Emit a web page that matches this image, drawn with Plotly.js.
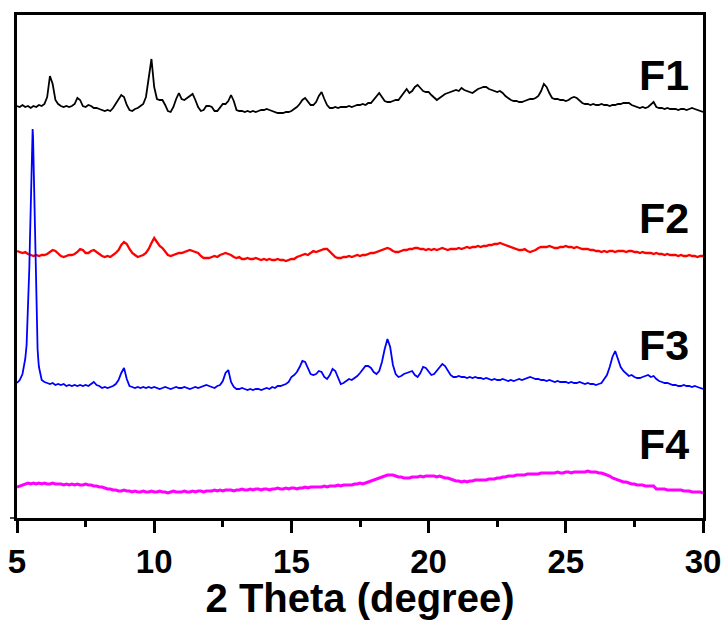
<!DOCTYPE html>
<html>
<head>
<meta charset="utf-8">
<script src="https://cdn.plot.ly/plotly-3.0.1.min.js"></script>
<style>
  html, body { margin: 0; padding: 0; background: #ffffff; }
  #chart { width: 726px; height: 620px; }
</style>
</head>
<body>
<div id="chart"></div>
<script>
// Powder XRD patterns of formulations F1–F4, stacked with vertical offsets.
// Intensities are in arbitrary units (offset already included), sampled every 0.1° 2θ.

const sampleNames = ["F1", "F2", "F3", "F4"];
const lineColors = ["#000000", "#ff0000", "#0000ff", "#ff00ff"];
const tickValues = [5, 10, 15, 20, 25, 30];
const tickLabels = ["5", "10", "15", "20", "25", "30"];

// 2θ sampling grid, 5.0° to 30.0°
const twoTheta = [];
for (let i = 0; i <= 250; i++) twoTheta.push((50 + i) / 10);

const countsF1 = [
  411, 410, 412, 410, 411, 409, 411, 410, 412, 411,
  413, 420, 441, 433, 417, 413, 411, 410, 411, 410,
  411, 413, 419, 417, 411, 410, 412, 411, 409, 409,
  408, 407, 406, 407, 406, 409, 413, 418, 422, 420,
  412, 407, 406, 408, 409, 411, 413, 420, 440, 458,
  430, 418, 417, 417, 412, 406, 405, 410, 418, 424,
  418, 417, 419, 421, 423, 417, 410, 406, 407, 411,
  411, 410, 406, 406, 410, 413, 413, 416, 422, 416,
  407, 406, 406, 405, 406, 405, 406, 405, 406, 407,
  407, 408, 407, 406, 405, 404, 404, 404, 405, 405,
  406, 408, 410, 413, 417, 419, 416, 412, 412, 415,
  421, 425, 418, 412, 409, 409, 410, 409, 410, 410,
  410, 411, 410, 411, 412, 412, 413, 412, 414, 414,
  417, 420, 424, 420, 416, 415, 415, 416, 417, 417,
  421, 425, 428, 424, 426, 430, 432, 429, 426, 425,
  425, 422, 419, 417, 419, 421, 423, 424, 425, 426,
  427, 426, 429, 427, 426, 425, 424, 426, 428, 429,
  430, 430, 428, 427, 426, 425, 426, 424, 421, 419,
  417, 416, 416, 415, 415, 416, 417, 418, 418, 419,
  421, 426, 433, 430, 424, 419, 418, 418, 417, 417,
  416, 417, 419, 420, 419, 416, 414, 413, 413, 412,
  413, 412, 412, 413, 412, 412, 411, 412, 412, 413,
  413, 414, 414, 414, 412, 411, 410, 409, 410, 409,
  410, 413, 415, 410, 409, 409, 408, 409, 408, 408,
  408, 407, 408, 408, 407, 408, 409, 408, 407, 406,
  405
];

const countsF2 = [
  266, 265, 264, 265, 263, 262, 261, 262, 261, 262,
  262, 263, 265, 267, 266, 263, 261, 260, 261, 262,
  262, 263, 265, 268, 267, 264, 264, 266, 267, 265,
  263, 261, 260, 261, 260, 262, 264, 267, 272, 275,
  273, 268, 264, 262, 260, 261, 262, 264, 268, 274,
  279, 275, 271, 269, 265, 262, 261, 262, 263, 264,
  264, 265, 266, 267, 266, 265, 264, 261, 259, 259,
  259, 260, 261, 260, 262, 263, 264, 263, 262, 260,
  259, 260, 258, 258, 259, 258, 258, 259, 258, 257,
  258, 257, 258, 257, 257, 258, 257, 257, 256, 257,
  258, 258, 260, 261, 262, 263, 262, 264, 266, 265,
  266, 267, 268, 268, 265, 262, 260, 259, 259, 260,
  260, 261, 260, 261, 262, 261, 262, 262, 263, 264,
  264, 265, 266, 267, 268, 269, 268, 266, 265, 265,
  266, 267, 267, 268, 268, 269, 269, 268, 268, 267,
  268, 267, 268, 267, 268, 269, 268, 267, 268, 268,
  268, 269, 268, 269, 270, 269, 270, 270, 271, 270,
  271, 271, 272, 272, 273, 273, 274, 273, 272, 271,
  270, 269, 268, 267, 267, 268, 266, 265, 266, 267,
  269, 270, 270, 270, 271, 270, 269, 269, 270, 270,
  271, 270, 270, 269, 270, 269, 268, 268, 268, 267,
  267, 266, 266, 265, 266, 265, 266, 266, 265, 266,
  266, 266, 265, 266, 266, 265, 265, 264, 265, 264,
  264, 264, 263, 264, 263, 263, 262, 263, 262, 262,
  262, 261, 262, 261, 261, 262, 261, 261, 260, 261,
  261
];

const countsF3 = [
  134, 137, 143, 158, 205, 318, 362, 215, 150, 137,
  135, 134, 133, 134, 132, 133, 132, 133, 131, 132,
  131, 132, 131, 132, 131, 132, 131, 133, 135, 132,
  131, 129, 130, 129, 130, 131, 133, 137, 144, 149,
  138, 131, 130, 129, 130, 129, 130, 129, 130, 129,
  130, 129, 128, 129, 130, 129, 128, 129, 130, 129,
  129, 130, 129, 128, 129, 130, 129, 130, 131, 132,
  131, 130, 129, 131, 132, 136, 144, 147, 135, 130,
  128, 128, 129, 128, 127, 128, 127, 128, 128, 127,
  128, 129, 128, 130, 129, 131, 131, 132, 133, 135,
  140, 142, 145, 150, 156, 155, 148, 143, 142, 143,
  146, 145, 140, 138, 142, 148, 146, 139, 133, 134,
  136, 138, 137, 139, 141, 144, 148, 151, 151, 149,
  145, 143, 146, 155, 168, 178, 170, 152, 143, 140,
  141, 143, 144, 145, 146, 142, 140, 144, 150, 149,
  145, 142, 143, 146, 150, 153, 151, 146, 142, 140,
  140, 141, 140, 140, 139, 140, 139, 140, 139, 139,
  138, 139, 138, 137, 138, 137, 137, 138, 137, 136,
  137, 136, 137, 138, 137, 138, 139, 140, 139, 138,
  138, 137, 137, 136, 137, 136, 135, 136, 135, 135,
  135, 134, 135, 134, 134, 135, 134, 133, 134, 133,
  133, 132, 133, 134, 138, 142, 150, 160, 166, 157,
  150, 146, 143, 141, 142, 140, 139, 139, 140, 141,
  142, 140, 141, 138, 136, 135, 134, 134, 133, 132,
  132, 131, 131, 132, 131, 131, 130, 131, 130, 129,
  128
];

// finer sampling across the sharp F3 reflection near 5.6°
const f3PeakTheta = [5.35, 5.45, 5.47, 5.53, 5.55, 5.57, 5.585, 5.62, 5.645, 5.67, 5.75, 5.78];
const f3PeakCounts = [172, 250, 275, 357, 378, 388, 380, 340, 298, 257, 168, 156];

const countsF4 = [
  30, 31, 32, 33, 34, 33, 34, 33, 34, 33,
  34, 33, 33, 34, 33, 33, 33, 32, 33, 32,
  33, 32, 33, 32, 32, 33, 32, 32, 31, 31,
  30, 30, 29, 28, 28, 27, 27, 26, 26, 27,
  26, 26, 25, 26, 25, 25, 26, 25, 25, 26,
  25, 25, 26, 25, 25, 24, 25, 26, 25, 25,
  25, 26, 25, 25, 26, 25, 26, 26, 25, 26,
  26, 26, 27, 26, 27, 26, 27, 27, 27, 26,
  27, 27, 28, 27, 27, 28, 27, 28, 28, 27,
  28, 28, 27, 28, 28, 29, 28, 28, 29, 28,
  29, 29, 28, 29, 29, 30, 29, 30, 30, 30,
  30, 30, 31, 30, 31, 31, 31, 32, 31, 32,
  32, 32, 32, 33, 33, 34, 33, 34, 35, 36,
  37, 38, 39, 40, 41, 42, 42, 42, 41, 40,
  40, 39, 39, 39, 40, 40, 40, 41, 40, 41,
  41, 41, 41, 40, 41, 40, 39, 39, 38, 37,
  36, 36, 35, 36, 35, 36, 36, 37, 37, 37,
  37, 37, 38, 38, 38, 39, 39, 40, 40, 41,
  41, 41, 42, 42, 42, 42, 43, 43, 43, 43,
  43, 44, 44, 44, 44, 44, 44, 45, 44, 44,
  45, 45, 44, 45, 45, 45, 45, 45, 46, 45,
  45, 45, 44, 44, 43, 42, 41, 39, 38, 37,
  36, 35, 35, 34, 33, 33, 32, 32, 32, 31,
  31, 31, 31, 28, 28, 28, 28, 27, 27, 27,
  27, 27, 27, 26, 26, 26, 25, 25, 25, 25,
  24
];

// merge the fine F3 points into the regular grid
function mergeSorted(xa, ya, xb, yb) {
  const pts = xa.map((x, i) => [x, ya[i]]).concat(xb.map((x, i) => [x, yb[i]]));
  pts.sort((p, q) => p[0] - q[0]);
  return { x: pts.map(p => p[0]), y: pts.map(p => p[1]) };
}
const f3 = mergeSorted(twoTheta, countsF3, f3PeakTheta, f3PeakCounts);

const seriesX = [twoTheta, twoTheta, f3.x, twoTheta];
const seriesY = [countsF1, countsF2, f3.y, countsF4];
const widths = [1.8, 2.3, 1.8, 3.0];

const traces = sampleNames.map((name, k) => ({
  type: "scatter",
  mode: "lines",
  name: name,
  x: seriesX[k],
  y: seriesY[k],
  line: { color: lineColors[k], width: widths[k] },
  hoverinfo: "skip"
}));

// sample labels placed at the right end of each pattern
const labelY = [442, 299, 172, 73];
const annotations = sampleNames.map((name, k) => ({
  text: name,
  x: 29.56, xref: "x", xanchor: "right",
  y: labelY[k], yref: "y", yanchor: "middle",
  showarrow: false,
  font: { family: "Liberation Sans, Arial, sans-serif", size: 43, color: "#000000", weight: "bold" }
}));

const layout = {
  width: 726,
  height: 620,
  margin: { l: 17, r: 23, t: 15, b: 102 },
  paper_bgcolor: "#ffffff",
  plot_bgcolor: "#ffffff",
  showlegend: false,
  font: { family: "Liberation Sans, Arial, sans-serif", color: "#000000" },
  xaxis: {
    range: [5, 30],
    tickmode: "array",
    tickvals: tickValues,
    ticktext: tickLabels,
    ticks: "outside",
    ticklen: 12,
    tickwidth: 3,
    tickcolor: "#000000",
    minor: { dtick: 2.5, ticks: "outside", ticklen: 6, tickwidth: 3, tickcolor: "#000000" },
    showline: true,
    linewidth: 3,
    linecolor: "#000000",
    mirror: true,
    showgrid: false,
    zeroline: false,
    tickfont: { size: 33, weight: "bold", family: "Liberation Sans, Arial, sans-serif" },
    ticklabelstandoff: 0,
    title: {
      text: "2 Theta (degree)",
      font: { size: 40, weight: "bold", family: "Liberation Sans, Arial, sans-serif" },
      standoff: 2
    }
  },
  yaxis: {
    range: [-1, 502],
    showline: true,
    linewidth: 3,
    linecolor: "#000000",
    mirror: true,
    showgrid: false,
    zeroline: false,
    tickmode: "array",
    tickvals: [-1],
    ticks: "outside",
    ticklen: 4,
    tickwidth: 2,
    showticklabels: false
  },
  annotations: annotations
};

Plotly.newPlot("chart", traces, layout, { staticPlot: true, displayModeBar: false });
</script>
</body>
</html>
